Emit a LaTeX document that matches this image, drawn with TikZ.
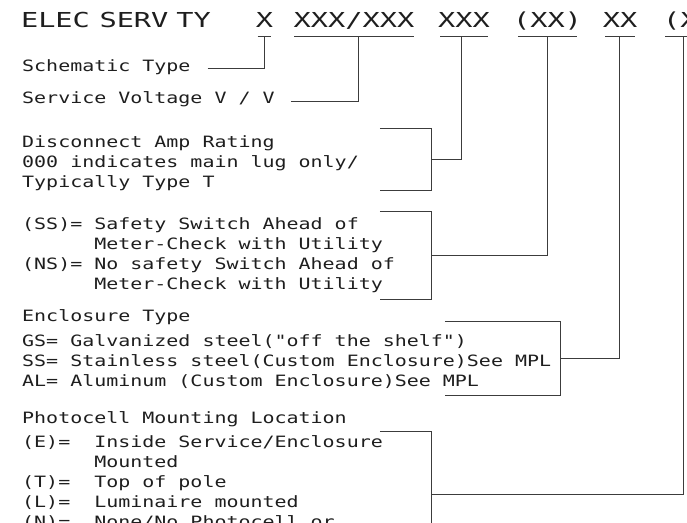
\documentclass[tikz,border=0pt]{standalone}
\usepackage{fontspec}
\usetikzlibrary{positioning}
\newfontfamily\hdrfont[FakeStretch=1.39]{DejaVu Sans Mono}
\newfontfamily\legfont[FakeStretch=1.28]{DejaVu Sans Mono}
\definecolor{leader}{RGB}{60,60,60}
\definecolor{ink}{RGB}{30,30,30}

\begin{document}
\begin{tikzpicture}[x=1pt, y=-1pt,
  hdr/.style={font=\hdrfont\fontsize{20.6}{24}\selectfont, text=ink, inner sep=0pt, anchor=base},
  txt/.style={font=\legfont\fontsize{15.6}{20}\selectfont, text=ink, inner sep=0pt, anchor=base west, align=left},
  brk/.style={inner sep=0pt},
  lead/.style={draw=leader, line width=1pt}
]
\useasboundingbox (0,0) rectangle (687,522);
\clip (0,0) rectangle (687,522);

% code string
\node[hdr] (hElec) at (55.5,27) {ELEC};
\node[hdr] (hServ) at (134,27) {SERV};
\node[hdr] (hTy) at (193.5,27) {TY};
\node[hdr] (fType) at (264.5,27) {X};
\node[hdr] (fVolt) at (354,27) {XXX/XXX};
\node[hdr] (fAmp) at (464,27) {XXX};
\node[hdr] (fSw) at (547.5,27) {(XX)};
\node[hdr] (fEncl) at (620,27) {XX};
\node[hdr, anchor=base west] (fPhoto) at (663,27) {(X};

\foreach \f/\s in {fType/2, fVolt/1, fAmp/2.5, fSw/5, fEncl/2.5, fPhoto/2}
  \draw[lead] ([shift={(\s pt,-9pt)}]\f.base west) -- ([shift={(-\s pt,-9pt)}]\f.base east);

% legend (multi-line nodes sit on their last baseline)
\node[txt] (lType) at (22,71) {Schematic Type};
\node[txt] (lVolt) at (22,103) {Service Voltage V / V};
\node[txt] (lAmp) at (22,187) {Disconnect Amp Rating\\000 indicates main lug only/\\Typically Type T};
\node[txt] (lSw) at (22,289) {(SS)= Safety Switch Ahead of\\\phantom{(SS)= }Meter-Check with Utility\\(NS)= No safety Switch Ahead of\\\phantom{(NS)= }Meter-Check with Utility};
\node[txt] (lEncl) at (22,386) {Enclosure Type\\[5pt]GS= Galvanized steel("off the shelf")\\SS= Stainless steel(Custom Enclosure)See MPL\\AL= Aluminum (Custom Enclosure)See MPL};
\node[txt] (lPhoto) at (22,527) {Photocell Mounting Location\\[4pt](E)=~~Inside Service/Enclosure\\\phantom{(E)=~~}Mounted\\(T)=~~Top of pole\\(L)=~~Luminaire mounted\\(N)=~~None/No Photocell or};

% brackets
\node[brk, minimum width=51pt, minimum height=61pt] (bAmp) at (405.5,159.5) {};
\node[brk, minimum width=51pt, minimum height=88pt] (bSw) at (405.5,255.5) {};
\node[brk, minimum width=115pt, minimum height=73pt] (bEncl) at (502.5,358.5) {};
\node[brk, minimum width=51pt, minimum height=124pt] (bPhoto) at (405.5,494) {};
\foreach \b in {bAmp, bSw, bEncl, bPhoto}
  \draw[lead] (\b.north west) -- (\b.north east) -- (\b.south east) -- (\b.south west);

% leaders
\draw[lead] ([shift={(17pt,3pt)}]lType.base east) -| ([yshift=-9pt]fType.base);
\draw[lead] ([shift={(16pt,2pt)}]lVolt.base east) -| ([shift={(4pt,-9pt)}]fVolt.base);
\draw[lead] (bAmp.east) -| ([shift={(-3pt,-9pt)}]fAmp.base);
\draw[lead] (bSw.east) -| ([shift={(-0.5pt,-9pt)}]fSw.base);
\draw[lead] (bEncl.east) -| ([shift={(-1pt,-9pt)}]fEncl.base);
\draw[lead] (bPhoto.east) -| ([shift={(3pt,-9pt)}]fPhoto.base);
\end{tikzpicture}
\end{document}
